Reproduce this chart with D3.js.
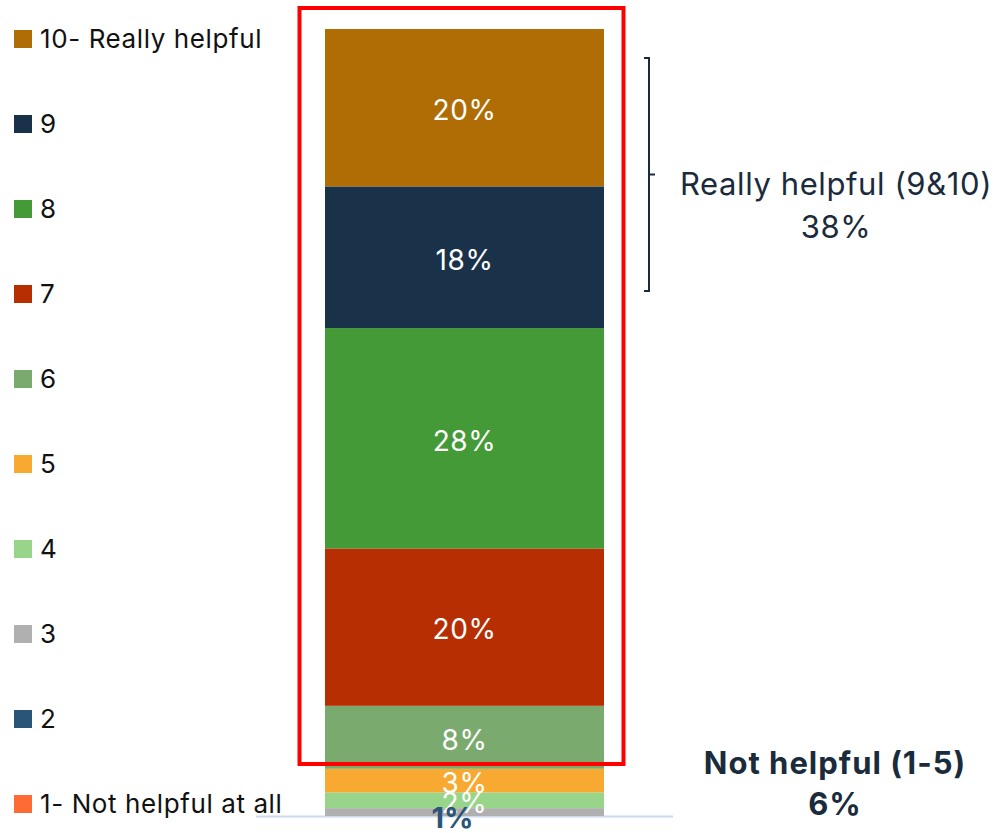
<!DOCTYPE html>
<html>
<head>
<meta charset="utf-8">
<script src="https://cdn.jsdelivr.net/npm/d3@7"></script>
<style>
  body { margin: 0; background: #fff; }
  svg { display: block; font-family: Inter, "Open Sans", sans-serif; }
</style>
</head>
<body>
<svg id="chart" width="994" height="833"></svg>
<script>
// ratings, top of the stack first
var levels = ["10", "9", "8", "7", "6", "5", "4", "3", "2", "1"];
var legendLabels = ["10- Really helpful", "9", "8", "7", "6", "5", "4", "3", "2", "1- Not helpful at all"];
var shares = [20, 18, 28, 20, 8, 3, 2, 1, 0, 0];
var colors = ["#b06d06", "#1a3249", "#459a38", "#b82e03", "#7baa6e", "#f8a932", "#98d58a", "#b0b0b0", "#2b5578", "#ff6b35"];
var groupTexts = [["Really helpful (9&10)", "38%"], ["Not helpful (1-5)", "6%"]];

var svg = d3.select("#chart");

// stack goes bottom up, so feed it 1..10
var row = {};
levels.forEach(function(k, i) { row[k] = shares[i]; });
var stackOrder = levels.slice().reverse();
var series = d3.stack().keys(stackOrder)([row]);

var color = d3.scaleOrdinal().domain(levels).range(colors);
var x = d3.scaleBand().domain(["all"]).range([325, 604]).padding(0);
var y = d3.scaleLinear().domain([0, 100]).range([816, 29]);

// baseline
svg.append("line")
  .attr("x1", 256).attr("x2", 673)
  .attr("y1", 816.5).attr("y2", 816.5)
  .attr("stroke", "#c9dbed").attr("stroke-width", 2);

svg.selectAll("rect.seg")
  .data(series)
  .enter()
  .append("rect")
  .attr("class", "seg")
  .attr("x", x("all"))
  .attr("width", x.bandwidth())
  .attr("y", function(d) { return y(d[0][1]); })
  .attr("height", function(d) { return y(d[0][0]) - y(d[0][1]); })
  .attr("fill", function(d) { return color(d.key); });

// labels inside the bar
svg.selectAll("text.val")
  .data(series.filter(function(d) { return d[0][1] - d[0][0] >= 2; }))
  .enter()
  .append("text")
  .attr("class", "val")
  .attr("x", x("all") + x.bandwidth() / 2)
  .attr("y", function(d) { return (y(d[0][0]) + y(d[0][1])) / 2; })
  .attr("dy", "0.44em")
  .attr("text-anchor", "middle")
  .attr("fill", "#fff")
  .style("font-size", "28px")
  .style("letter-spacing", "0.6px")
  .text(function(d) { return (d[0][1] - d[0][0]) + "%"; });

// the tiny 1% sits below the bar
var small = series.filter(function(d) { var v = d[0][1] - d[0][0]; return v > 0 && v < 2; });
svg.selectAll("text.small")
  .data(small)
  .enter()
  .append("text")
  .attr("class", "small")
  .attr("x", x("all") + x.bandwidth() / 2 - 12)
  .attr("y", function(d) { return y(d[0][0]) + 12; })
  .attr("text-anchor", "middle")
  .attr("fill", "#2b5578")
  .style("font-size", "29px")
  .style("font-weight", "700")
  .text(function(d) { return (d[0][1] - d[0][0]) + "%"; });

// red highlight box
svg.append("rect")
  .attr("x", 299.5).attr("y", 8)
  .attr("width", 324).attr("height", 756)
  .attr("fill", "none")
  .attr("stroke", "#ff0000").attr("stroke-width", 4);

// legend
var leg = svg.selectAll("g.leg")
  .data(levels)
  .enter()
  .append("g")
  .attr("class", "leg")
  .attr("transform", function(d, i) { return "translate(14," + (30 + i * 85) + ")"; });
leg.append("rect")
  .attr("width", 18).attr("height", 18)
  .attr("fill", function(d) { return color(d); });
leg.append("text")
  .attr("x", 26).attr("y", 9)
  .attr("dy", "0.36em")
  .attr("fill", "#111")
  .style("font-size", "26px")
  .style("letter-spacing", "0.6px")
  .text(function(d, i) { return legendLabels[i]; });

// bracket for 9 & 10
var top2 = series.filter(function(d) { return d.key == "10" || d.key == "9"; });
var bTop = y(d3.max(top2, function(d) { return d[0][1]; })) + 29;
var bBot = y(d3.min(top2, function(d) { return d[0][0]; })) - 37;
var bx = 649;
svg.append("path")
  .attr("d", "M" + (bx - 5) + "," + bTop + "H" + bx + "V" + bBot + "H" + (bx - 5) +
    "M" + bx + "," + (bTop + bBot) / 2 + "H" + (bx + 6))
  .attr("fill", "none")
  .attr("stroke", "#1a2b3c")
  .attr("stroke-width", 2);

var rh = svg.append("text")
  .attr("text-anchor", "middle")
  .attr("fill", "#1a2b3c")
  .style("font-size", "31px")
  .style("letter-spacing", "0.6px");
rh.append("tspan").attr("x", 836).attr("y", 195).text(groupTexts[0][0]);
rh.append("tspan").attr("x", 836).attr("y", 238).text(groupTexts[0][1]);

var nh = svg.append("text")
  .attr("text-anchor", "middle")
  .attr("fill", "#1a2b3c")
  .style("font-size", "31px")
  .style("font-weight", "700")
  .style("letter-spacing", "1px");
nh.append("tspan").attr("x", 835).attr("y", 774).text(groupTexts[1][0]);
nh.append("tspan").attr("x", 835).attr("y", 815).text(groupTexts[1][1]);
</script>
</body>
</html>
